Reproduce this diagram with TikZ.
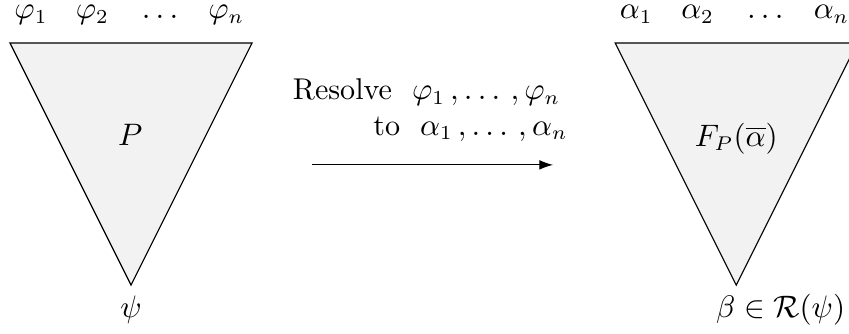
\documentclass[tikz,border=0pt]{standalone}
\usepackage{amsmath}
\usepackage{amssymb}
\usepackage{tikz}
\usetikzlibrary{arrows.meta,positioning}
\definecolor{pfgray}{RGB}{242,242,242}
\tikzset{
  pftree/.style={draw=black, thin, fill=pfgray},
  pfarr/.style={-{Latex[length=1.7mm, width=1.2mm]}, thin, draw=black},
  pflabel/.style={inner sep=1pt},
  pftop/.style={inner sep=1pt, anchor=base}
}

\begin{document}
\begin{tikzpicture}[font=\fontsize{10.6}{13}\selectfont]
  \useasboundingbox (-0.124,-3.594) rectangle (10.397,0.533);
  % proof P
  \coordinate (la) at (0,0);
  \coordinate (lb) at (3,0);
  \coordinate (lc) at (1.5,-3);
  \draw[pftree] (la) -- (lb) -- (lc) -- cycle;
  \node[pftop] (phi1) at (0.26,0.30) {$\varphi_1$};
  \node[pftop] (phi2) at (1.02,0.30) {$\varphi_2$};
  \node[pftop] (phid) at (1.86,0.30) {$\ldots$};
  \node[pftop] (phin) at (2.68,0.30) {$\varphi_n$};
  \node[pflabel] (p) at (1.49,-1.14) {$P$};
  \node[pftop] (psi) at (1.5,-3.40) {$\psi$};
  % arrow
  \coordinate (s) at (3.74,-1.51);
  \coordinate (t) at (6.73,-1.51);
  \draw[pfarr] (s) -- (t);
  \node[pflabel, anchor=base east] (res) at (6.86,-0.706) {Resolve~~$\varphi_1\,,\ldots\,,\varphi_n$};
  \node[pflabel, anchor=base east] (resto) at (6.95,-1.14) {to~~$\alpha_1\,,\ldots\,,\alpha_n$};
  % proof F_P(alpha)
  \coordinate (ra) at (7.5,0);
  \coordinate (rb) at (10.5,0);
  \coordinate (rc) at (9,-3);
  \draw[pftree] (ra) -- (rb) -- (rc) -- cycle;
  \node[pftop] (al1) at (7.76,0.30) {$\alpha_1$};
  \node[pftop] (al2) at (8.52,0.30) {$\alpha_2$};
  \node[pftop] (ald) at (9.36,0.30) {$\ldots$};
  \node[pftop] (aln) at (10.18,0.30) {$\alpha_n$};
  \node[pflabel] (fp) at (9,-1.18) {$F_P(\overline{\alpha})$};
  \node[pftop] (beta) at (9.55,-3.40) {$\beta\in\mathcal{R}(\psi)$};
\end{tikzpicture}
\end{document}
